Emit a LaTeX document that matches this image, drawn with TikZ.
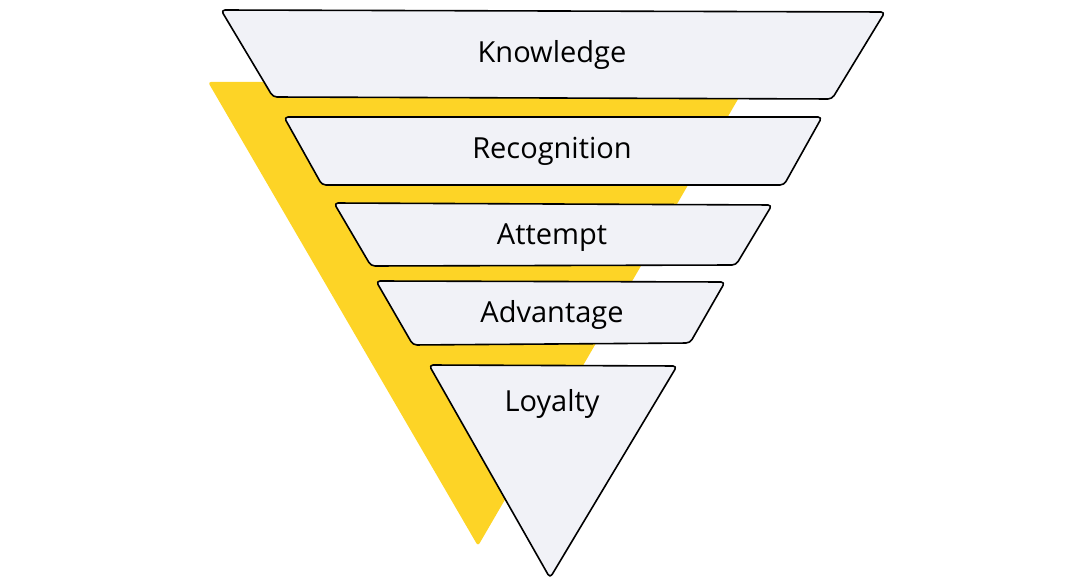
\documentclass[tikz,border=0pt]{standalone}
\usepackage{fontspec}
\setmainfont{Open Sans}
\definecolor{layerfill}{HTML}{F1F2F7}
\definecolor{shadow}{HTML}{FDD426}
\tikzset{
	layer/.style={draw=black, fill=layerfill, line width=1.6pt, rounded corners=4pt, line join=round},
	label/.style={font=\fontsize{29}{33}\selectfont, text=black}
}
\begin{document}
\begin{tikzpicture}[x=1pt,y=-1pt]
		\useasboundingbox (0,0) rectangle (1080,585);
		% yellow shadow behind the funnel
		\fill[shadow, rounded corners=3pt] (208,82) -- (748,82) -- (478,546) -- cycle;
		
		\draw[layer] (221,10) -- (885,12) -- (832,99) -- (273,97) -- cycle;
		\draw[layer] (284,117) -- (822,117) -- (784,185) -- (322,185) -- cycle;
		\draw[layer] (334,203) -- (772,205) -- (736,265) -- (371,266) -- cycle;
		\draw[layer] (376,281) -- (725,282) -- (690,343) -- (413,345) -- cycle;
		\draw[layer] (429,365) -- (677,366) -- (550,578) -- cycle;
		
		\node[label] (K) at (552,55) {Knowledge};
		\node[label] (R) at (552,151) {Recognition};
		\node[label] (A) at (552,238) {Attempt};
		\node[label] (V) at (552,315) {Advantage};
		\node[label] (L) at (552,404) {Loyalty};
		\end{tikzpicture}
\end{document}
